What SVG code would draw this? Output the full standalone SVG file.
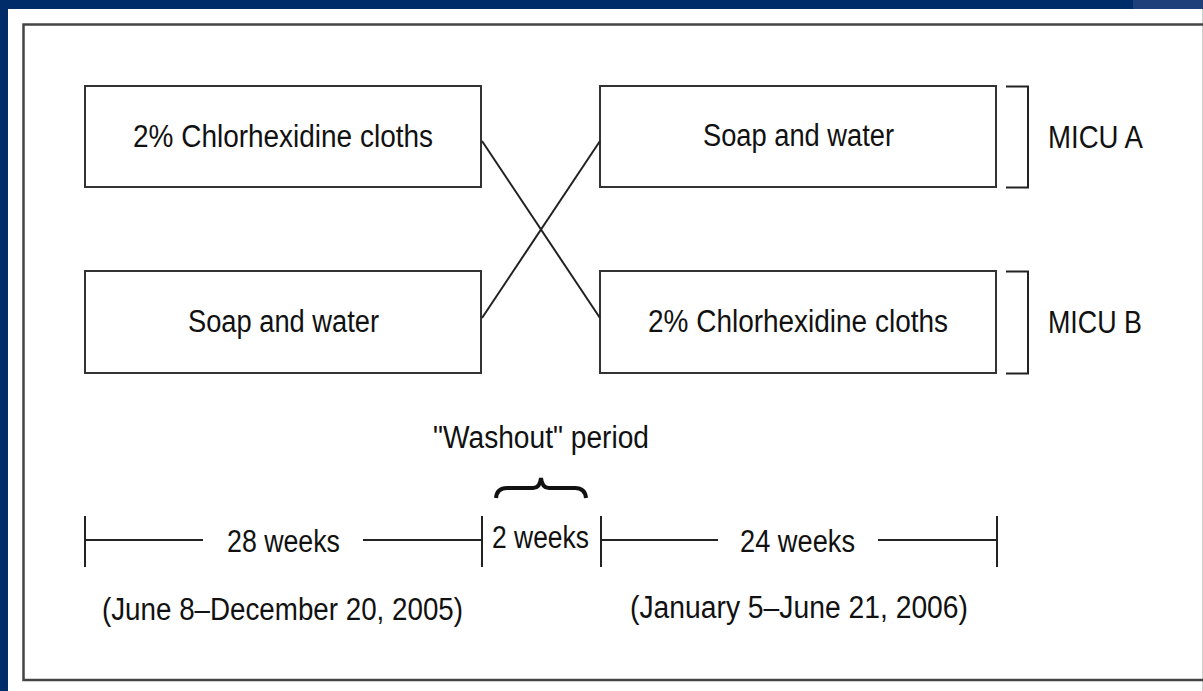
<svg xmlns="http://www.w3.org/2000/svg" width="1203" height="691" viewBox="0 0 1203 691">
<style>
.box{fill:#fff;stroke:#333;stroke-width:2}
.ln{fill:none;stroke:#222;stroke-width:2}
.t{font-family:"Liberation Sans",Arial,sans-serif;font-size:31px;fill:#111}
</style>
<rect width="1203" height="691" fill="#fff"/>
<rect x="0" y="0" width="1203" height="9" fill="#002d6a"/>
<rect x="1133" y="0" width="70" height="9" fill="#1f3f7a"/>
<rect x="0" y="0" width="8" height="691" fill="#002d6a"/>
<line x1="1202.5" y1="9" x2="1202.5" y2="691" stroke="#ccc" stroke-width="1"/>
<rect x="23.5" y="24.5" width="1195" height="655.5" fill="none" stroke="#444" stroke-width="2.5"/>

<g id="a1"><rect class="box" x="85" y="86" width="396" height="101"/><text class="t" x="133" y="147" textLength="300" lengthAdjust="spacingAndGlyphs">2% Chlorhexidine cloths</text></g>
<g id="a2"><rect class="box" x="600" y="86" width="396" height="101"/><text class="t" x="703" y="146" textLength="191" lengthAdjust="spacingAndGlyphs">Soap and water</text></g>
<g id="b1"><rect class="box" x="85" y="271" width="396" height="102"/><text class="t" x="188" y="332" textLength="191" lengthAdjust="spacingAndGlyphs">Soap and water</text></g>
<g id="b2"><rect class="box" x="600" y="271" width="396" height="102"/><text class="t" x="648" y="332" textLength="300" lengthAdjust="spacingAndGlyphs">2% Chlorhexidine cloths</text></g>

<g id="micuA"><path class="ln" d="M1006,86.5 H1028 V187.5 H1006"/><text class="t" x="1048" y="148" textLength="95" lengthAdjust="spacingAndGlyphs">MICU A</text></g>
<g id="micuB"><path class="ln" d="M1006,271.5 H1028 V373.5 H1006"/><text class="t" x="1048" y="333" textLength="94" lengthAdjust="spacingAndGlyphs">MICU B</text></g>

<g id="connectors">
<line class="ln" x1="482" y1="141" x2="600" y2="318"/>
<line class="ln" x1="482" y1="318" x2="600" y2="141"/>
</g>

<g id="washout">
<text class="t" x="433" y="448" textLength="216" lengthAdjust="spacingAndGlyphs">"Washout" period</text>
<path d="M496,498 Q497,488 507,488 L533,488 Q540,488 541,478 Q542,488 549,488 L575,488 Q585,488 586,498" fill="none" stroke="#111" stroke-width="4"/>
</g>

<g id="timeline">
<line class="ln" x1="85" y1="516" x2="85" y2="567"/>
<line class="ln" x1="482" y1="516" x2="482" y2="567"/>
<line class="ln" x1="601" y1="516" x2="601" y2="567"/>
<line class="ln" x1="997" y1="516" x2="997" y2="567"/>
<line class="ln" x1="85" y1="540" x2="203" y2="540"/>
<line class="ln" x1="363" y1="540" x2="482" y2="540"/>
<line class="ln" x1="601" y1="540" x2="718" y2="540"/>
<line class="ln" x1="878" y1="540" x2="997" y2="540"/>
<text class="t" x="227" y="552" textLength="113" lengthAdjust="spacingAndGlyphs">28 weeks</text>
<text class="t" x="492" y="548" textLength="97" lengthAdjust="spacingAndGlyphs">2 weeks</text>
<text class="t" x="740" y="552" textLength="115" lengthAdjust="spacingAndGlyphs">24 weeks</text>
<text class="t" x="102" y="620" textLength="361" lengthAdjust="spacingAndGlyphs">(June 8–December 20, 2005)</text>
<text class="t" x="630" y="618" textLength="338" lengthAdjust="spacingAndGlyphs">(January 5–June 21, 2006)</text>
</g>
</svg>
